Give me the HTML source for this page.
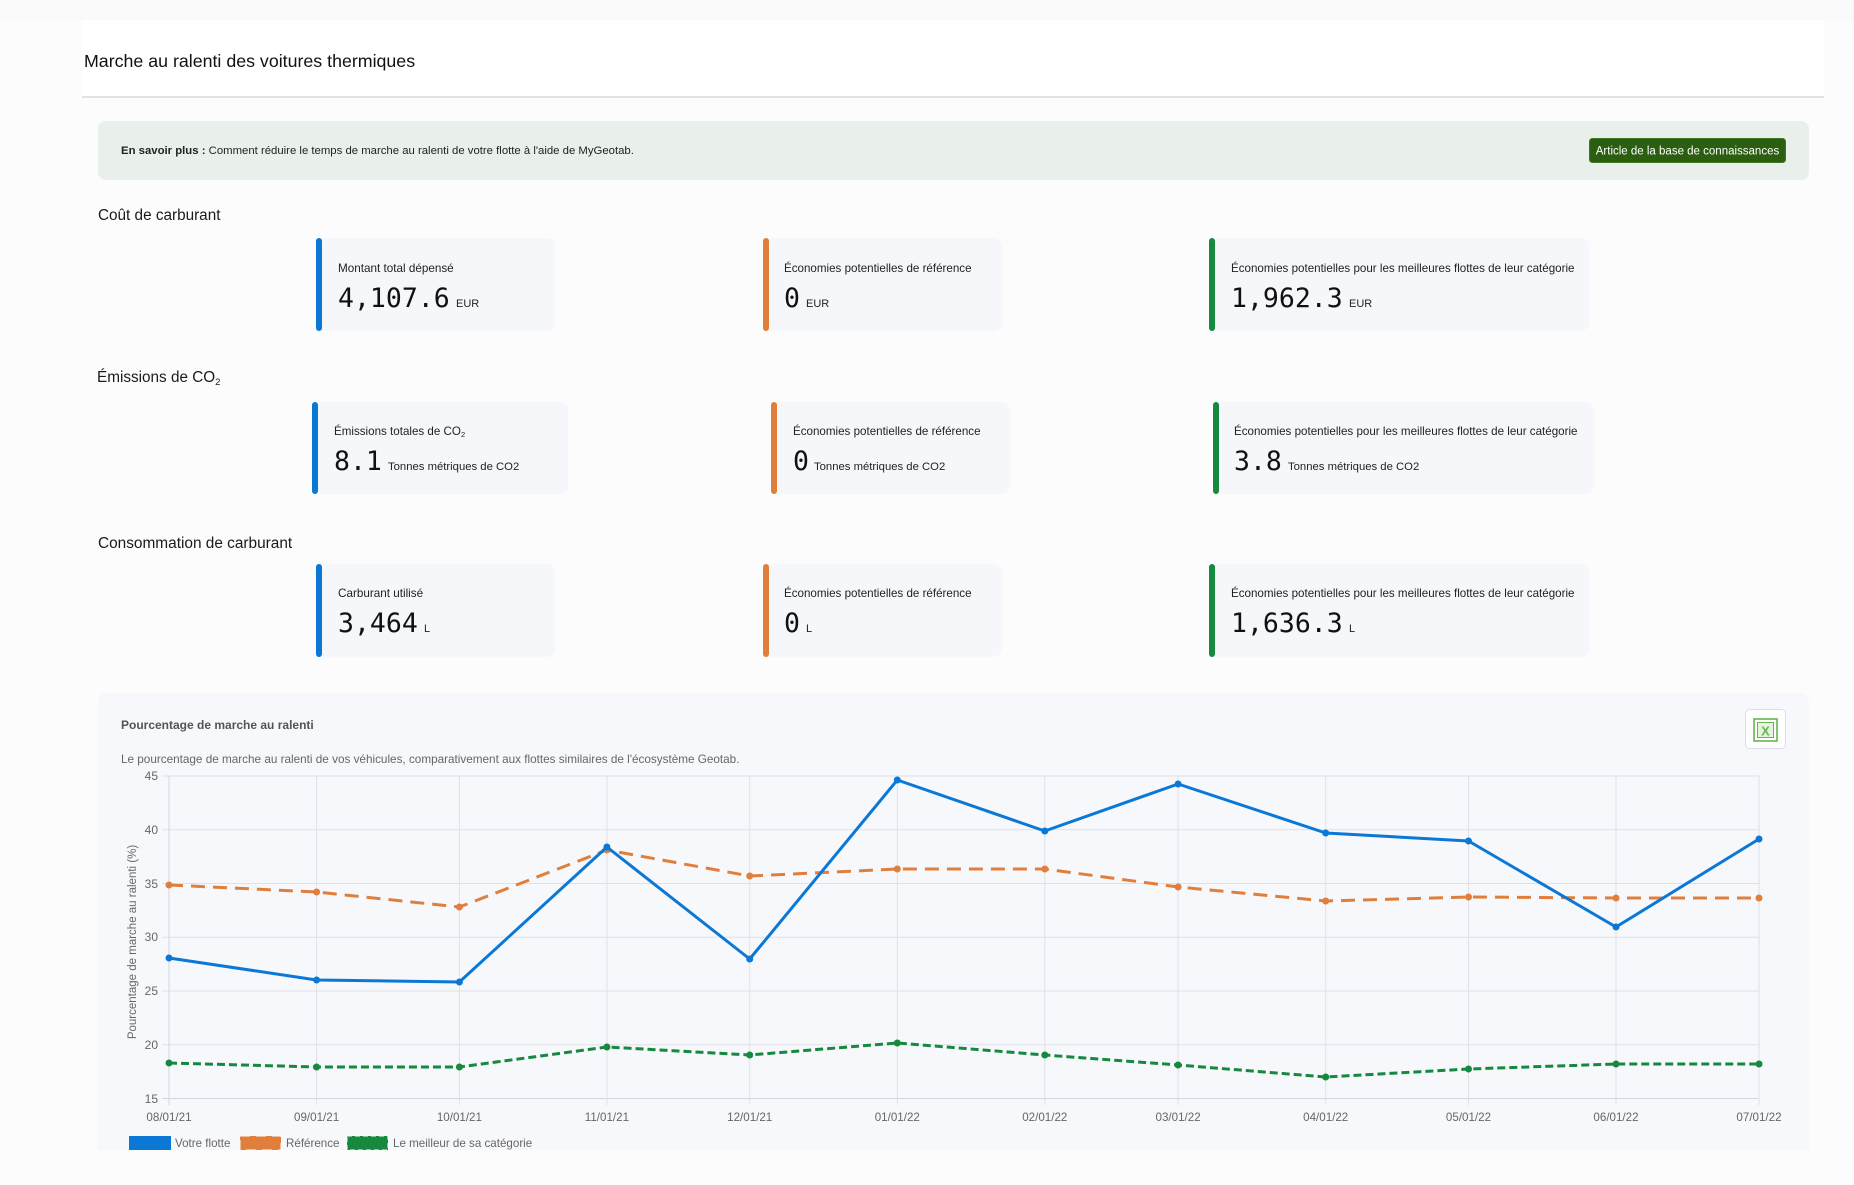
<!DOCTYPE html>
<html lang="fr">
<head>
<meta charset="utf-8">
<style>
  html, body { margin:0; padding:0; }
  body { width:1854px; height:1185px; overflow:hidden; background:#fcfcfc; font-family:"Liberation Sans", Arial, sans-serif; }
  svg { position:absolute; left:0; top:0; display:block; }
</style>
</head>
<body>
<svg width="1854" height="1185" viewBox="0 0 1854 1185" xmlns="http://www.w3.org/2000/svg" font-family="Liberation Sans, Arial, sans-serif">
  <!-- background -->
  <rect x="0" y="0" width="1854" height="1185" fill="#fcfcfc"/>
  <rect x="0" y="0" width="1854" height="20" fill="#fafafa"/>
  <rect x="82" y="20" width="1742" height="77" fill="#ffffff"/>
  <line x1="82" y1="97" x2="1824" y2="97" stroke="#d9d9d9" stroke-width="1.5"/>

  <!-- title -->
  <text x="84" y="67" font-size="17.8" fill="#111">Marche au ralenti des voitures thermiques</text>

  <!-- banner -->
  <rect x="98" y="121" width="1711" height="59" rx="8" fill="#e9efeb"/>
  <text x="121" y="154" font-size="11.35" fill="#222"><tspan font-weight="bold">En savoir plus :</tspan> Comment réduire le temps de marche au ralenti de votre flotte à l'aide de MyGeotab.</text>
  <rect x="1589.5" y="138.5" width="196" height="24" rx="3" fill="#2b5e10" stroke="#3d7a1e" stroke-width="1"/>
  <text x="1687.5" y="154.5" font-size="11.5" fill="#ffffff" text-anchor="middle">Article de la base de connaissances</text>

  <!-- section headings -->
  <text x="98" y="220" font-size="15.3" fill="#1a1a1a">Coût de carburant</text>
  <text x="97" y="382" font-size="15.3" fill="#1a1a1a">Émissions de CO<tspan font-size="9.5" dy="3">2</tspan></text>
  <text x="98" y="548" font-size="15.4" fill="#1a1a1a">Consommation de carburant</text>

  <!-- ===== Row 1 cards ===== -->
  <g>
    <rect x="316" y="238" width="239" height="93" rx="8" fill="#f5f7fb"/>
    <rect x="316" y="238" width="6" height="93" rx="3" fill="#0b78d6"/>
    <text x="338" y="272" font-size="11.7" fill="#222">Montant total dépensé</text>
    <text x="338" y="307" font-size="26.5" font-family="DejaVu Sans Mono, Liberation Mono, monospace" fill="#111">4,107.6</text>
    <text x="456" y="307" font-size="11" fill="#222">EUR</text>
  </g>
  <g>
    <rect x="763" y="238" width="239" height="93" rx="8" fill="#f5f7fb"/>
    <rect x="763" y="238" width="6" height="93" rx="3" fill="#e07f3c"/>
    <text x="784" y="272" font-size="11.6" fill="#222">Économies potentielles de référence</text>
    <text x="784" y="307" font-size="26.5" font-family="DejaVu Sans Mono, Liberation Mono, monospace" fill="#111">0</text>
    <text x="806" y="307" font-size="11" fill="#222">EUR</text>
  </g>
  <g>
    <rect x="1209" y="238" width="380" height="93" rx="8" fill="#f5f7fb"/>
    <rect x="1209" y="238" width="6" height="93" rx="3" fill="#16893f"/>
    <text x="1231" y="272" font-size="11.6" fill="#222">Économies potentielles pour les meilleures flottes de leur catégorie</text>
    <text x="1231" y="307" font-size="26.5" font-family="DejaVu Sans Mono, Liberation Mono, monospace" fill="#111">1,962.3</text>
    <text x="1349" y="307" font-size="11" fill="#222">EUR</text>
  </g>

  <!-- ===== Row 2 cards ===== -->
  <g>
    <rect x="312" y="402" width="256" height="92" rx="8" fill="#f5f7fb"/>
    <rect x="312" y="402" width="6" height="92" rx="3" fill="#0b78d6"/>
    <text x="334" y="435" font-size="11.6" fill="#222">Émissions totales de CO<tspan font-size="7.5" dy="2">2</tspan></text>
    <text x="334" y="470" font-size="26.5" font-family="DejaVu Sans Mono, Liberation Mono, monospace" fill="#111">8.1</text>
    <text x="388" y="470" font-size="11.3" fill="#222">Tonnes métriques de CO2</text>
  </g>
  <g>
    <rect x="771" y="402" width="239" height="92" rx="8" fill="#f5f7fb"/>
    <rect x="771" y="402" width="6" height="92" rx="3" fill="#e07f3c"/>
    <text x="793" y="435" font-size="11.6" fill="#222">Économies potentielles de référence</text>
    <text x="793" y="470" font-size="26.5" font-family="DejaVu Sans Mono, Liberation Mono, monospace" fill="#111">0</text>
    <text x="814" y="470" font-size="11.3" fill="#222">Tonnes métriques de CO2</text>
  </g>
  <g>
    <rect x="1213" y="402" width="381" height="92" rx="8" fill="#f5f7fb"/>
    <rect x="1213" y="402" width="6" height="92" rx="3" fill="#16893f"/>
    <text x="1234" y="435" font-size="11.6" fill="#222">Économies potentielles pour les meilleures flottes de leur catégorie</text>
    <text x="1234" y="470" font-size="26.5" font-family="DejaVu Sans Mono, Liberation Mono, monospace" fill="#111">3.8</text>
    <text x="1288" y="470" font-size="11.3" fill="#222">Tonnes métriques de CO2</text>
  </g>

  <!-- ===== Row 3 cards ===== -->
  <g>
    <rect x="316" y="564" width="239" height="93" rx="8" fill="#f5f7fb"/>
    <rect x="316" y="564" width="6" height="93" rx="3" fill="#0b78d6"/>
    <text x="338" y="597" font-size="11.7" fill="#222">Carburant utilisé</text>
    <text x="338" y="632" font-size="26.5" font-family="DejaVu Sans Mono, Liberation Mono, monospace" fill="#111">3,464</text>
    <text x="424" y="632" font-size="11" fill="#222">L</text>
  </g>
  <g>
    <rect x="763" y="564" width="239" height="93" rx="8" fill="#f5f7fb"/>
    <rect x="763" y="564" width="6" height="93" rx="3" fill="#e07f3c"/>
    <text x="784" y="597" font-size="11.6" fill="#222">Économies potentielles de référence</text>
    <text x="784" y="632" font-size="26.5" font-family="DejaVu Sans Mono, Liberation Mono, monospace" fill="#111">0</text>
    <text x="806" y="632" font-size="11" fill="#222">L</text>
  </g>
  <g>
    <rect x="1209" y="564" width="380" height="93" rx="8" fill="#f5f7fb"/>
    <rect x="1209" y="564" width="6" height="93" rx="3" fill="#16893f"/>
    <text x="1231" y="597" font-size="11.6" fill="#222">Économies potentielles pour les meilleures flottes de leur catégorie</text>
    <text x="1231" y="632" font-size="26.5" font-family="DejaVu Sans Mono, Liberation Mono, monospace" fill="#111">1,636.3</text>
    <text x="1349" y="632" font-size="11" fill="#222">L</text>
  </g>

  <!-- ===== Chart card ===== -->
  <path d="M98 1150 V701 a8 8 0 0 1 8 -8 H1801 a8 8 0 0 1 8 8 V1150 Z" fill="#f7f8fc"/>
  <text x="121" y="729" font-size="12" font-weight="bold" fill="#555">Pourcentage de marche au ralenti</text>
  <text x="121" y="763" font-size="11.73" fill="#666">Le pourcentage de marche au ralenti de vos véhicules, comparativement aux flottes similaires de l'écosystème Geotab.</text>

  <!-- excel button -->
  <rect x="1745.5" y="709.5" width="40" height="39" rx="4" fill="#ffffff" stroke="#dcdfe5" stroke-width="1"/>
  <rect x="1754" y="719" width="23" height="22" fill="none" stroke="#63b84d" stroke-width="1.6"/>
  <rect x="1757.5" y="722.5" width="16" height="15" fill="#e6f4df" stroke="#63b84d" stroke-width="1"/>
  <text x="1765.5" y="735.5" font-size="13" font-weight="bold" fill="#63b84d" text-anchor="middle">X</text>

  <!-- grid -->
  <g stroke="#dfe1e7" stroke-width="1" fill="none">
    <line x1="162" y1="776" x2="1759" y2="776"/>
    <line x1="162" y1="829.75" x2="1759" y2="829.75"/>
    <line x1="162" y1="883.5" x2="1759" y2="883.5"/>
    <line x1="162" y1="937.25" x2="1759" y2="937.25"/>
    <line x1="162" y1="991" x2="1759" y2="991"/>
    <line x1="162" y1="1044.75" x2="1759" y2="1044.75"/>
    <line x1="162" y1="1098.5" x2="1759" y2="1098.5" stroke="#d4d6dc"/>
    <line x1="169" y1="776" x2="169" y2="1105" stroke="#d4d6dc"/>
    <line x1="316.6" y1="776" x2="316.6" y2="1105"/>
    <line x1="459.4" y1="776" x2="459.4" y2="1105"/>
    <line x1="606.9" y1="776" x2="606.9" y2="1105"/>
    <line x1="749.7" y1="776" x2="749.7" y2="1105"/>
    <line x1="897.3" y1="776" x2="897.3" y2="1105"/>
    <line x1="1044.8" y1="776" x2="1044.8" y2="1105"/>
    <line x1="1178.1" y1="776" x2="1178.1" y2="1105"/>
    <line x1="1325.7" y1="776" x2="1325.7" y2="1105"/>
    <line x1="1468.5" y1="776" x2="1468.5" y2="1105"/>
    <line x1="1616" y1="776" x2="1616" y2="1105"/>
    <line x1="1759" y1="776" x2="1759" y2="1105"/>
  </g>

  <!-- y ticks -->
  <g font-size="12" fill="#666" text-anchor="end">
    <text x="158" y="780">45</text>
    <text x="158" y="834">40</text>
    <text x="158" y="888">35</text>
    <text x="158" y="941">30</text>
    <text x="158" y="995">25</text>
    <text x="158" y="1049">20</text>
    <text x="158" y="1103">15</text>
  </g>
  <text transform="translate(136 942) rotate(-90)" font-size="11.5" fill="#666" text-anchor="middle">Pourcentage de marche au ralenti (%)</text>

  <!-- x ticks -->
  <g font-size="11.6" fill="#666" text-anchor="middle">
    <text x="169" y="1121">08/01/21</text>
    <text x="316.6" y="1121">09/01/21</text>
    <text x="459.4" y="1121">10/01/21</text>
    <text x="606.9" y="1121">11/01/21</text>
    <text x="749.7" y="1121">12/01/21</text>
    <text x="897.3" y="1121">01/01/22</text>
    <text x="1044.8" y="1121">02/01/22</text>
    <text x="1178.1" y="1121">03/01/22</text>
    <text x="1325.7" y="1121">04/01/22</text>
    <text x="1468.5" y="1121">05/01/22</text>
    <text x="1616" y="1121">06/01/22</text>
    <text x="1759" y="1121">07/01/22</text>
  </g>

  <!-- green series -->
  <polyline fill="none" stroke="#16893f" stroke-width="3" stroke-dasharray="8,4" stroke-linejoin="round"
    points="169,1063 316.6,1067 459.4,1067 606.9,1047 749.7,1055 897.3,1043 1044.8,1055 1178.1,1065 1325.7,1077 1468.5,1069 1616,1064 1759,1064"/>
  <g fill="#16893f">
    <circle cx="169" cy="1063" r="3.5"/><circle cx="316.6" cy="1067" r="3.5"/><circle cx="459.4" cy="1067" r="3.5"/>
    <circle cx="606.9" cy="1047" r="3.5"/><circle cx="749.7" cy="1055" r="3.5"/><circle cx="897.3" cy="1043" r="3.5"/>
    <circle cx="1044.8" cy="1055" r="3.5"/><circle cx="1178.1" cy="1065" r="3.5"/><circle cx="1325.7" cy="1077" r="3.5"/>
    <circle cx="1468.5" cy="1069" r="3.5"/><circle cx="1616" cy="1064" r="3.5"/><circle cx="1759" cy="1064" r="3.5"/>
  </g>

  <!-- orange series -->
  <polyline fill="none" stroke="#e07f3c" stroke-width="3" stroke-dasharray="14,8" stroke-linejoin="round"
    points="169,885 316.6,892 459.4,907 606.9,850 749.7,876 897.3,869 1044.8,869 1178.1,887 1325.7,901 1468.5,897 1616,898 1759,898"/>
  <g fill="#e07f3c">
    <circle cx="169" cy="885" r="3.5"/><circle cx="316.6" cy="892" r="3.5"/><circle cx="459.4" cy="907" r="3.5"/>
    <circle cx="606.9" cy="850" r="3.5"/><circle cx="749.7" cy="876" r="3.5"/><circle cx="897.3" cy="869" r="3.5"/>
    <circle cx="1044.8" cy="869" r="3.5"/><circle cx="1178.1" cy="887" r="3.5"/><circle cx="1325.7" cy="901" r="3.5"/>
    <circle cx="1468.5" cy="897" r="3.5"/><circle cx="1616" cy="898" r="3.5"/><circle cx="1759" cy="898" r="3.5"/>
  </g>

  <!-- blue series -->
  <polyline fill="none" stroke="#0b78d6" stroke-width="3" stroke-linejoin="round"
    points="169,958 316.6,980 459.4,982 606.9,847 749.7,959 897.3,780 1044.8,831 1178.1,784 1325.7,833 1468.5,841 1616,927 1759,839"/>
  <g fill="#0b78d6">
    <circle cx="169" cy="958" r="3.5"/><circle cx="316.6" cy="980" r="3.5"/><circle cx="459.4" cy="982" r="3.5"/>
    <circle cx="606.9" cy="847" r="3.5"/><circle cx="749.7" cy="959" r="3.5"/><circle cx="897.3" cy="780" r="3.5"/>
    <circle cx="1044.8" cy="831" r="3.5"/><circle cx="1178.1" cy="784" r="3.5"/><circle cx="1325.7" cy="833" r="3.5"/>
    <circle cx="1468.5" cy="841" r="3.5"/><circle cx="1616" cy="927" r="3.5"/><circle cx="1759" cy="839" r="3.5"/>
  </g>

  <!-- legend -->
  <rect x="129" y="1136" width="42" height="14" fill="#0b78d6"/>
  <text x="175" y="1147" font-size="11.6" fill="#666">Votre flotte</text>
  <rect x="240" y="1136" width="41" height="14" fill="#e07f3c"/>
  <rect x="240" y="1136" width="41" height="14" fill="none" stroke="#fcfcfc" stroke-width="1" stroke-dasharray="10,6"/>
  <text x="286" y="1147" font-size="11.6" fill="#666">Référence</text>
  <rect x="347" y="1136" width="41" height="14" fill="#16893f"/>
  <rect x="347" y="1136" width="41" height="14" fill="none" stroke="#fcfcfc" stroke-width="1" stroke-dasharray="5,3"/>
  <text x="393" y="1147" font-size="11.6" fill="#666">Le meilleur de sa catégorie</text>
</svg>
</body>
</html>
